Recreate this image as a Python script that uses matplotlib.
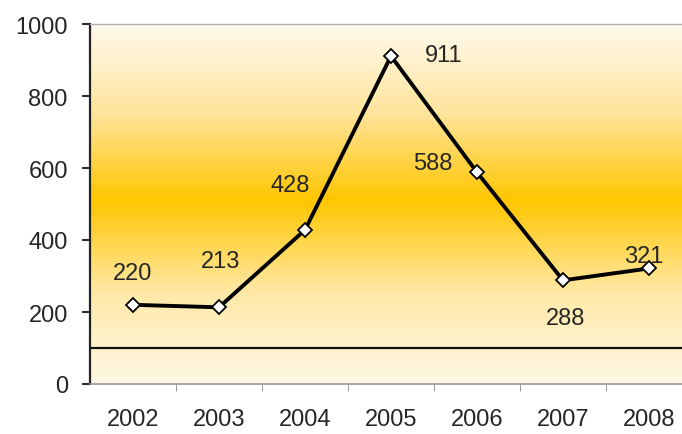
import numpy as np
import matplotlib
matplotlib.use("Agg")
from matplotlib import pyplot as plt
from matplotlib.colors import LinearSegmentedColormap

years = ["2002", "2003", "2004", "2005", "2006", "2007", "2008"]
values = [220, 213, 428, 911, 588, 288, 321]
# label offsets in points (dx, dy) relative to each marker
label_offsets = [(0, 23), (1, 33), (-11, 32), (38, 1), (-32, 7), (2, -27), (-4, 9)]
yticks = [0, 200, 400, 600, 800, 1000]

plt.rcParams['font.family'] = ['Liberation Sans', 'DejaVu Sans']
text_col = '#262626'

fig = plt.figure(figsize=(6.82, 4.35), dpi=100)
ax = fig.add_axes([90/682, 50/435, 592/682, 360/435])

x = np.arange(len(years))
ax.set_xlim(-0.5, 6.5 - 10/86)
ax.set_ylim(0, 1000)

# vertical gradient background: cream - gold - cream
cmap = LinearSegmentedColormap.from_list(
    'bg', [(0.0, '#fff8e6'), (0.25, '#ffe9a8'), (0.51, '#ffc600'),
           (0.75, '#ffe49a'), (1.0, '#fffaee')])
grad = np.linspace(0, 1, 256).reshape(-1, 1)
ax.imshow(grad, aspect='auto', cmap=cmap, origin='lower',
          extent=(0, 1, 0, 1), transform=ax.transAxes, zorder=0)

ax.axhline(100, color='#111111', lw=1.6, zorder=2)

ax.plot(x, values, color='black', lw=2.8, zorder=3)
ax.plot(x, values, linestyle='none', marker='D', markersize=7.5,
        markerfacecolor='white', markeredgecolor='black',
        markeredgewidth=1.3, zorder=4)

for xi, v, (dx, dy) in zip(x, values, label_offsets):
    ax.annotate(str(v), (xi, v), xytext=(dx, dy), textcoords='offset points',
                ha='center', va='center', fontsize=17, color=text_col, zorder=5)

ax.set_yticks(yticks)
ax.set_yticklabels([str(t) for t in yticks], fontsize=17, color=text_col)
ax.set_xticks(x)
ax.set_xticklabels(years, fontsize=17, color=text_col)
ax.set_xticks(np.arange(0.5, 6, 1), minor=True)
ax.tick_params(axis='x', which='major', length=0, pad=17)
ax.tick_params(axis='x', which='minor', length=5, color='#888888', direction='out')
ax.tick_params(axis='y', length=6, width=1.4, color='#222222', direction='out', pad=10)

ax.spines['left'].set_color('#222222')
ax.spines['left'].set_linewidth(1.6)
ax.spines['bottom'].set_color('#999999')
ax.spines['bottom'].set_linewidth(1.2)
ax.spines['top'].set_color('#b0b0b0')
ax.spines['top'].set_linewidth(1.0)
ax.spines['right'].set_visible(False)

fig.savefig('out.png', dpi=100)
